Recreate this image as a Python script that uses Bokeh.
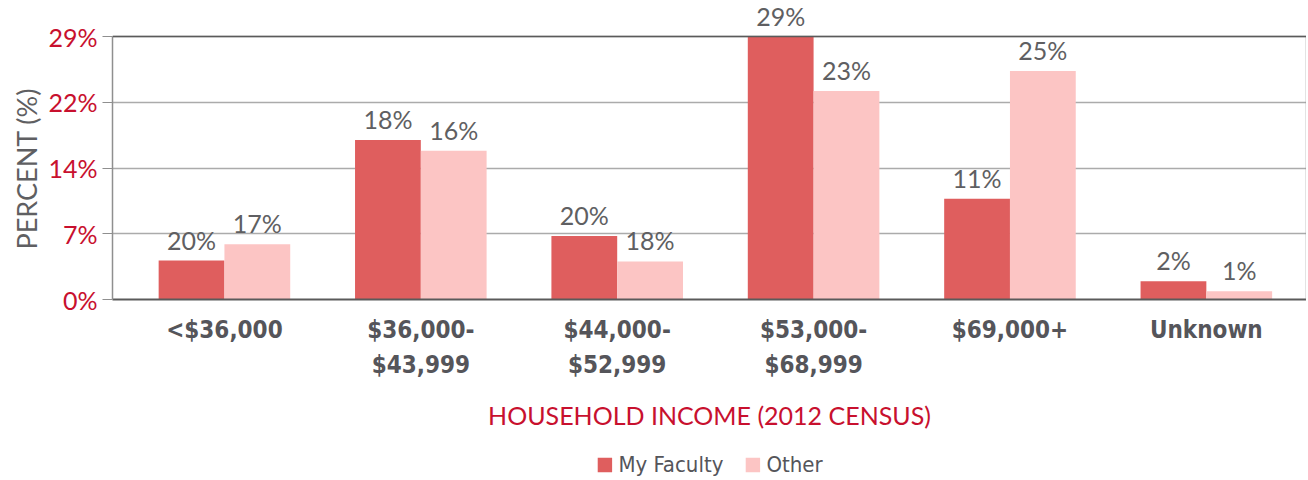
from bokeh.plotting import figure
from bokeh.layouts import column
from bokeh.models import (ColumnDataSource, Range1d, FixedTicker, Legend, LegendItem,
                          Span, LinearAxis, Title)
from bokeh.transform import dodge
from bokeh.core.properties import value
from bokeh.embed import file_html
from bokeh.resources import INLINE

categories = ["<$36,000", "$36,000-\n$43,999", "$44,000-\n$52,999",
              "$53,000-\n$68,999", "$69,000+", "Unknown"]
my_faculty = [4.3, 17.6, 7.0, 29.0, 11.1, 2.0]
other = [6.1, 16.4, 4.2, 23.0, 25.2, 0.9]
my_faculty_labels = ["20%", "18%", "20%", "29%", "11%", "2%"]
other_labels = ["17%", "16%", "18%", "23%", "25%", "1%"]
y_ticks = [0, 7.25, 14.5, 21.75, 29]
y_tick_labels = ["0%", "7%", "14%", "22%", "29%"]
series_names = ["My Faculty", "Other"]

Y_MAX = 29
AXIS_PX = 263          # pixel height of the 0..Y_MAX axis
HEADROOM_PX = 32       # room above the axis for the value labels

MF_COLOR = "#df5e5e"
OT_COLOR = "#fcc5c4"
RED = "#c8102e"
GRAY = "#55555a"
LABEL_GRAY = "#5f5f62"
BORDER = "#8f8f8f"
COND = "'DejaVu Sans Condensed', 'Roboto Condensed', sans-serif"
BODY = "Lato"

xs = list(range(len(categories)))
src = ColumnDataSource(dict(x=xs, mf=my_faculty, ot=other,
                            mfl=my_faculty_labels, otl=other_labels))

p = figure(frame_width=1194, frame_height=AXIS_PX + HEADROOM_PX,
           output_backend="svg", toolbar_location=None,
           x_range=Range1d(-0.57, 5.51),
           y_range=Range1d(0, Y_MAX * (AXIS_PX + HEADROOM_PX) / AXIS_PX),
           min_border_left=112, min_border_right=0, min_border_top=4,
           min_border_bottom=0)
p.outline_line_color = None

bw = 0.335
r1 = p.vbar(x=dodge("x", -bw / 2, range=p.x_range), top="mf", width=bw,
            source=src, color=MF_COLOR, line_color=None)
r2 = p.vbar(x=dodge("x", bw / 2, range=p.x_range), top="ot", width=bw,
            source=src, color=OT_COLOR, line_color=None)

for col, lab, off in (("mf", "mfl", -bw / 2), ("ot", "otl", bw / 2)):
    p.text(x=dodge("x", off, range=p.x_range), y=col, text=lab, source=src,
           text_align="center", text_baseline="bottom", y_offset=-6,
           text_font=value(BODY), text_font_size="25px", text_color=LABEL_GRAY)

p.add_layout(Span(location=Y_MAX, dimension="width",
                  line_color="#5a5a5a", line_width=1.5))

# left axis
p.yaxis.bounds = (0, Y_MAX)
p.yaxis.ticker = FixedTicker(ticks=y_ticks)
p.yaxis.major_label_overrides = {t: l for t, l in zip(y_ticks, y_tick_labels)}
p.yaxis.major_label_text_color = RED
p.yaxis.major_label_text_font = BODY
p.yaxis.major_label_text_font_size = "25px"
p.yaxis.major_tick_out = 10
p.yaxis.major_tick_in = 0
p.yaxis.minor_tick_line_color = None
p.yaxis.major_tick_line_color = BORDER
p.yaxis.axis_line_color = BORDER
p.yaxis.axis_line_width = 1.5
p.yaxis.major_label_standoff = 5

p.add_layout(Title(text="PERCENT (%)", align="left", offset=50,
                   text_font=BODY, text_font_size="27px", text_font_style="normal",
                   text_color=LABEL_GRAY, standoff=6), "left")

# right border drawn as a bare axis
right = LinearAxis(bounds=(0, Y_MAX), ticker=FixedTicker(ticks=[]),
                   axis_line_color=BORDER, axis_line_width=1.5,
                   major_tick_line_color=None, minor_tick_line_color=None,
                   major_label_text_font_size="0px")
p.add_layout(right, "right")

# bottom axis
p.xaxis.ticker = FixedTicker(ticks=xs)
p.xaxis.major_label_overrides = {i: c for i, c in zip(xs, categories)}
p.xaxis.major_label_text_font = COND
p.xaxis.major_label_text_font_style = "bold"
p.xaxis.major_label_text_font_size = "24px"
p.xaxis.major_label_text_color = GRAY
p.xaxis.major_label_text_line_height = 1.25
p.xaxis.major_tick_line_color = None
p.xaxis.minor_tick_line_color = None
p.xaxis.axis_line_color = "#5a5a5a"
p.xaxis.axis_line_width = 2
p.xaxis.major_label_standoff = 10
p.xaxis.axis_label = "HOUSEHOLD INCOME (2012 CENSUS)"
p.xaxis.axis_label_text_font = BODY
p.xaxis.axis_label_text_font_style = "normal"
p.xaxis.axis_label_text_font_size = "25px"
p.xaxis.axis_label_text_color = RED
p.xaxis.axis_label_standoff = 18

p.xgrid.grid_line_color = None
p.ygrid.grid_line_color = "#ababab"
p.ygrid.grid_line_width = 1.5

# legend in its own strip under the chart; its key renderers use the same
# data but lie outside that strip's visible range, so only the legend shows
lg = figure(frame_width=1194, frame_height=36, output_backend="svg",
            toolbar_location=None, min_border_left=112, min_border_right=0,
            min_border_top=14, min_border_bottom=0,
            x_range=Range1d(-20, -19), y_range=Range1d(-20, -19))
lg.axis.visible = False
lg.grid.grid_line_color = None
lg.outline_line_color = None
k1 = lg.vbar(x="x", top="mf", width=bw, source=src, color=MF_COLOR, line_color=None)
k2 = lg.vbar(x="x", top="ot", width=bw, source=src, color=OT_COLOR, line_color=None)
legend = Legend(items=[LegendItem(label=series_names[0], renderers=[k1]),
                       LegendItem(label=series_names[1], renderers=[k2])],
                orientation="horizontal", location="center",
                label_text_font=COND, label_text_font_size="22px",
                label_text_color=GRAY, glyph_width=18, glyph_height=18,
                spacing=20, border_line_color=None, background_fill_alpha=0,
                margin=0, padding=2)
lg.add_layout(legend, "center")

layout = column(p, lg, spacing=0)
open("out.html", "w").write(file_html(layout, INLINE))
